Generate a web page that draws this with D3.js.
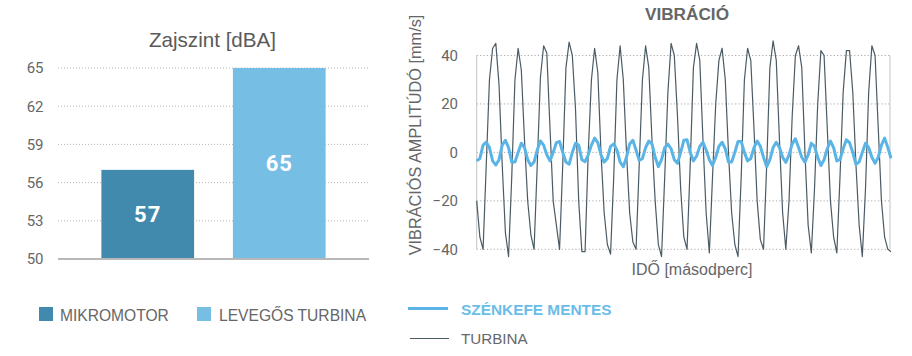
<!DOCTYPE html>
<html><head><meta charset="utf-8">
<script src="https://cdn.jsdelivr.net/npm/d3@7"></script>
<style>
body{margin:0;background:#fff;}
svg{display:block;}
</style></head>
<body>
<svg id="c" width="912" height="356"></svg>
<script>
// ---- Left chart data ----
const noiseCategories = ["MIKROMOTOR", "LEVEGŐS TURBINA"];
const noiseValues = [57, 65];
const noiseTicks = [50, 53, 56, 59, 62, 65];
const noiseColors = ["#4189ad", "#77bee5"];

// ---- Right chart data ----
const vibTicks = [-40, -20, 0, 20, 40];
const vibSeriesNames = ["SZÉNKEFE MENTES", "TURBINA"];
const turbina = [-20,-35,-40,-5,30,43,45,28,-5,-33,-43,-10,30,43,34,5,-20,-34,-40,-5,
 31,44,41,10,-20,-30,-40,-5,35,45.5,40,18,-20,-41,-41,0,30,43,33,0,
 -25,-38,-42,-10,30,44,30,0,-25,-37,-40,-5,30,44,35,5,-20,-38,-43,-10,
 25,45,40,15,-15,-35,-40,-5,35,45,38,5,-25,-41.5,-10,20,38,43,30,0,
 -25,-38,-43,-10,30,43,38,10,-20,-36,-40,-5,35,46,38,5,-25,-40,-20,15,
 40,44,35,0,-30,-41.5,-15,20,42,40,10,-20,-35,-41.5,-10,25,42,42,25,-5,
 -30,-43,-15,25,44,40,10,-20,-35,-40,-41];
const szenkefe = [-3.5,-2.5,3,4.2,2,-3.5,-5.2,-3,3,5,2,-4,-4,0,3.8,2,-3,-5.4,-4,1,
 4.7,3,-1,-3.5,0,4,4.5,0,-4,-4.9,0,3.8,3,-3,-3.8,-1,3,5.9,4,-1,
 -4,-2.5,2.5,3.5,1,-4,-5.9,-2,3.5,5,1,-3.4,-2.5,2,4.7,3.5,-2,-5.9,-3,2,
 3.4,1.5,-3,-4.5,0,5,5.2,0,-3.5,-1.5,2.5,4.2,1,-3,-5.4,-2,2.5,4.2,1.5,-4,
 -4,0,4.5,4.5,0,-3.5,-2.5,2,4.7,2.5,-2,-5.9,-3,2,4.2,2,-2,-4.1,-1,3.5,
 5.6,2,-2,-4,-1,3.8,2.5,-2,-5.4,-3,1.5,4.7,2,-3.5,-3,1.5,5.2,4,0,-4.9,
 -4,0,3.8,2,-2,-4.5,-2,3,5.9,2,-2.4];
const vibColors = ["#5ab4e6", "#4b5b64"];

const svg = d3.select("#c");
const textGray = "#666";

// ================= LEFT CHART =================
const L = {x0: 58, x1: 369, yTop: 68, yBot: 259};
const yL = d3.scaleLinear().domain([50, 65]).range([L.yBot, L.yTop]);
const xL = d3.scaleBand().domain(noiseCategories).range([L.x0, L.x1]).paddingInner(0.295).paddingOuter(0.33);

svg.append("text").attr("x", 212.5).attr("y", 47).attr("text-anchor", "middle")
  .attr("font-family", "Liberation Sans, Arial, sans-serif").attr("font-size", 20.6)
  .attr("fill", "#5a5a5a").text("Zajszint [dBA]");

const gridL = svg.append("g");
gridL.selectAll("line").data(noiseTicks.filter(t => t !== 50)).join("line")
  .attr("x1", L.x0).attr("x2", L.x1)
  .attr("y1", d => yL(d)).attr("y2", d => yL(d))
  .attr("stroke", "#b5b5b5").attr("stroke-width", 1).attr("stroke-dasharray", "1,2");

const axL = svg.append("g").attr("transform", `translate(${L.x0 - 14.5},0)`)
  .call(d3.axisLeft(yL).tickValues(noiseTicks).tickSize(0).tickPadding(0));
axL.select(".domain").remove();
axL.selectAll("text").attr("font-family", "Roboto, sans-serif").attr("font-size", 15).attr("fill", textGray);

svg.selectAll("rect.bar").data(noiseValues).join("rect").attr("class", "bar")
  .attr("x", (d, i) => xL(noiseCategories[i])).attr("width", xL.bandwidth())
  .attr("y", d => yL(d)).attr("height", d => yL(50) - yL(d))
  .attr("fill", (d, i) => noiseColors[i]);

svg.selectAll("text.val").data(noiseValues).join("text").attr("class", "val")
  .attr("x", (d, i) => xL(noiseCategories[i]) + xL.bandwidth() / 2)
  .attr("y", d => (yL(d) + yL(50)) / 2)
  .attr("dy", "0.36em").attr("text-anchor", "middle")
  .attr("font-family", "Roboto, sans-serif").attr("font-weight", 700).attr("font-size", 22)
  .attr("letter-spacing", 1).attr("fill", "#fff").text(d => d);

svg.append("line").attr("x1", L.x0).attr("x2", L.x1).attr("y1", L.yBot).attr("y2", L.yBot)
  .attr("stroke", "#b8b8b8").attr("stroke-width", 2);

// left legend
const legL = [{x: 39, tx: 60}, {x: 197, tx: 219}];
noiseCategories.forEach((c, i) => {
  svg.append("rect").attr("x", legL[i].x).attr("y", 307).attr("width", 14).attr("height", 14).attr("fill", noiseColors[i]);
  svg.append("text").attr("x", legL[i].tx).attr("y", 320.5)
    .attr("font-family", "Liberation Sans, Arial, sans-serif").attr("font-size", 15.6)
    .attr("fill", textGray).text(c);
});

// ================= RIGHT CHART =================
const R = {x0: 476.7, x1: 891, yTop: 55.5, yBot: 249.3};
const yR = d3.scaleLinear().domain([-40, 40]).range([R.yBot, R.yTop]);
const xR = d3.scaleLinear().domain([0, turbina.length - 1]).range([R.x0, R.x1]);

svg.append("text").attr("x", 687).attr("y", 20).attr("text-anchor", "middle")
  .attr("font-family", "Liberation Sans, Arial, sans-serif").attr("font-weight", 700).attr("font-size", 17.2)
  .attr("fill", textGray).text("VIBRÁCIÓ");

svg.append("g").selectAll("line").data(vibTicks).join("line")
  .attr("x1", R.x0).attr("x2", 890)
  .attr("y1", d => yR(d)).attr("y2", d => yR(d))
  .attr("stroke", "#a9a9a9").attr("stroke-width", 1).attr("stroke-dasharray", "1.2,2.2");

[R.x0, 890].forEach(x => svg.append("line").attr("x1", x).attr("x2", x).attr("y1", R.yTop).attr("y2", R.yBot)
  .attr("stroke", "#c4c4c4").attr("stroke-width", 1));

const axR = svg.append("g").attr("transform", `translate(458,0)`)
  .call(d3.axisLeft(yR).tickValues(vibTicks).tickSize(0).tickPadding(0).tickFormat(d3.format("d")));
axR.select(".domain").remove();
axR.selectAll("text").attr("font-family", "Roboto, sans-serif").attr("font-size", 15).attr("fill", textGray);

svg.append("text").attr("transform", "translate(421,135) rotate(-90)").attr("text-anchor", "middle")
  .attr("font-family", "Liberation Sans, Arial, sans-serif").attr("font-size", 16.3)
  .attr("fill", textGray).text("VIBRÁCIÓS AMPLITÚDÓ [mm/s]");

svg.append("text").attr("x", 692).attr("y", 275).attr("text-anchor", "middle")
  .attr("font-family", "Liberation Sans, Arial, sans-serif").attr("font-size", 16)
  .attr("fill", textGray).text("IDŐ [másodperc]");

const line = d3.line().x((d, i) => xR(i)).y(d => yR(d));
svg.append("path").datum(turbina).attr("d", line).attr("fill", "none")
  .attr("stroke", vibColors[1]).attr("stroke-width", 1.2).attr("stroke-linejoin", "round");
svg.append("path").datum(szenkefe).attr("d", line).attr("fill", "none")
  .attr("stroke", vibColors[0]).attr("stroke-width", 3).attr("stroke-linejoin", "round");

// right legend
svg.append("line").attr("x1", 408).attr("x2", 448).attr("y1", 308.5).attr("y2", 308.5)
  .attr("stroke", vibColors[0]).attr("stroke-width", 3);
svg.append("text").attr("x", 461).attr("y", 314.5)
  .attr("font-family", "Liberation Sans, Arial, sans-serif").attr("font-weight", 700).attr("font-size", 15.4)
  .attr("fill", "#6abde8").text(vibSeriesNames[0]);
svg.append("line").attr("x1", 410).attr("x2", 449).attr("y1", 338.5).attr("y2", 338.5)
  .attr("stroke", vibColors[1]).attr("stroke-width", 1.2);
svg.append("text").attr("x", 461).attr("y", 343.5)
  .attr("font-family", "Liberation Sans, Arial, sans-serif").attr("font-size", 15.2)
  .attr("fill", textGray).text(vibSeriesNames[1]);
</script>
</body></html>
